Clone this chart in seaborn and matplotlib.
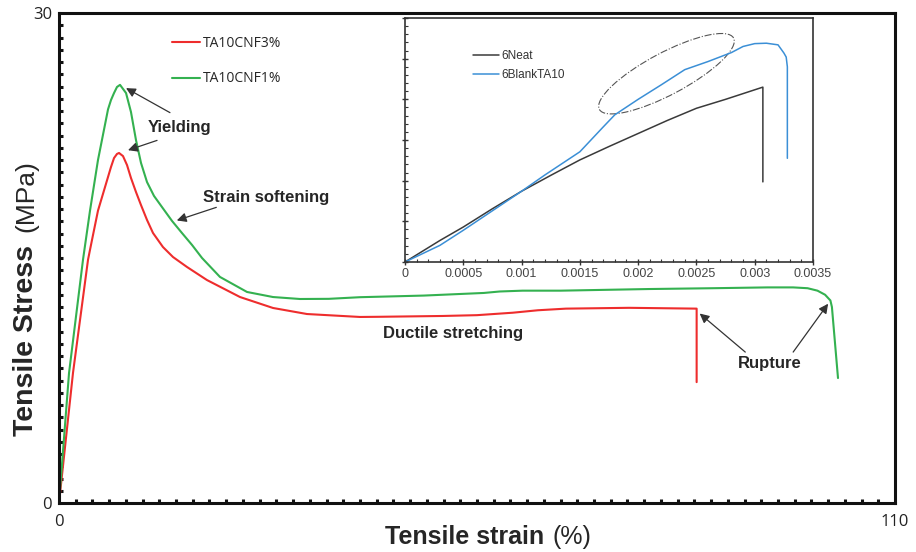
import numpy as np
import pandas as pd
import seaborn as sns
import matplotlib.pyplot as plt
from matplotlib.ticker import MultipleLocator
from matplotlib.patches import Ellipse
from matplotlib.transforms import ScaledTranslation

# main curves (strain %, stress MPa)
cnf3_strain = [0, 1.84, 3.82, 4.34, 5.13, 6.45, 6.84, 7.24, 7.63, 7.9, 8.42, 8.95, 9.47, 10.13,
               10.79, 11.58, 12.37, 13.68, 15.0, 16.84, 19.47, 23.82, 28.16, 32.63, 39.6, 42.0,
               50.4, 55.0, 59.7, 63.0, 66.7, 75.0, 83.9, 83.9]
cnf3_stress = [0, 7.96, 14.9, 16.1, 17.9, 19.96, 20.57, 21.12, 21.37, 21.43, 21.24, 20.69, 19.9,
               19.04, 18.24, 17.33, 16.53, 15.67, 15.06, 14.45, 13.65, 12.61, 11.94, 11.57,
               11.39, 11.4, 11.45, 11.5, 11.65, 11.8, 11.9, 11.95, 11.9, 7.4]

cnf1_strain = [0, 1.32, 3.16, 4.08, 5.13, 6.45, 6.84, 7.24, 7.63, 8.03, 8.82, 9.47, 10.13,
               10.79, 11.58, 12.5, 13.55, 14.87, 16.18, 17.5, 18.82, 21.18, 24.74, 28.16,
               31.71, 35.5, 39.6, 48.0, 55.9, 58.0, 61.0, 66.0, 77.6, 86.0, 93.2, 96.6, 98.5,
               99.8, 100.8, 101.5, 101.7, 102.5]
cnf1_stress = [0, 7.96, 14.9, 17.9, 21.0, 24.1, 24.67, 25.1, 25.47, 25.6, 25.1, 23.94, 22.22,
               20.82, 19.65, 18.8, 18.12, 17.27, 16.53, 15.8, 15.0, 13.84, 12.92, 12.61,
               12.49, 12.5, 12.6, 12.7, 12.86, 12.95, 13.0, 13.0, 13.1, 13.15, 13.2, 13.2, 13.15,
               13.0, 12.75, 12.4, 12.0, 7.65]

# inset curves (strain, stress in tick units)
neat_strain = [0, 0.0003, 0.0005, 0.00075, 0.001, 0.00125, 0.0015, 0.00175, 0.002, 0.00225,
               0.0025, 0.00275, 0.00307, 0.00307]
neat_stress = [0, 5.3, 8.6, 13.1, 17.4, 21.3, 25.1, 28.4, 31.6, 34.8, 37.8, 40.0, 43.0, 19.7]

blank_strain = [0, 0.0003, 0.0005, 0.001, 0.0012, 0.0015, 0.0017, 0.0018, 0.002, 0.0022,
                0.0024, 0.0026, 0.0028, 0.0029, 0.003, 0.0031, 0.0032, 0.00325, 0.00327,
                0.00328, 0.00328]
blank_stress = [0, 4.1, 7.8, 17.4, 21.4, 27.1, 33.2, 36.2, 40.0, 43.6,
                47.3, 49.3, 51.5, 53.0, 53.7, 53.8, 53.4, 51.4, 50.4, 48.0, 25.5]

inset_xticks = [0, 0.0005, 0.001, 0.0015, 0.002, 0.0025, 0.003, 0.0035]
inset_xlabels = ['0', '0.0005', '0.001', '0.0015', '0.002', '0.0025', '0.003', '0.0035']

main_df = pd.concat([
    pd.DataFrame({'strain': cnf3_strain, 'stress': cnf3_stress, 'sample': 'TA10CNF3%'}),
    pd.DataFrame({'strain': cnf1_strain, 'stress': cnf1_stress, 'sample': 'TA10CNF1%'}),
], ignore_index=True)
inset_df = pd.concat([
    pd.DataFrame({'strain': neat_strain, 'stress': neat_stress, 'sample': '6Neat'}),
    pd.DataFrame({'strain': blank_strain, 'stress': blank_stress, 'sample': '6BlankTA10'}),
], ignore_index=True)

sns.set_style('white')
plt.rcParams['font.family'] = ['Open Sans', 'DejaVu Sans']

fig = plt.figure(figsize=(9.16, 5.52), dpi=100)
ax = fig.add_axes([59/916, 49/552, 836/916, 490/552])

sns.lineplot(data=main_df, x='strain', y='stress', hue='sample',
             hue_order=['TA10CNF3%', 'TA10CNF1%'],
             palette=['#ee2d2d', '#34b150'], sort=False, estimator=None,
             linewidth=1.5, ax=ax)

ax.set_xlim(0, 110)
ax.set_ylim(0, 30)
ax.set_xticks([0, 110])
ax.set_yticks([0, 30])
ax.xaxis.set_minor_locator(MultipleLocator(2.2))
ax.yaxis.set_minor_locator(MultipleLocator(0.75))
ax.tick_params(which='major', length=0, labelsize=12, colors='#222')
ax.tick_params(axis='x', which='major', pad=8)
ax.tick_params(axis='y', which='major', pad=5)
ax.tick_params(which='minor', direction='in', length=3, width=2.2, color='#111',
               bottom=True, left=True)
for s in ax.spines.values():
    s.set_linewidth(2.2)
    s.set_color('#111')
ax.set_xlabel('')
ax.set_ylabel('')

sns.move_legend(ax, 'upper left', bbox_to_anchor=(0.135, 0.954), frameon=False,
                title=None, fontsize=10, labelspacing=1.5, handlelength=2.0,
                handletextpad=0.2, borderpad=0, borderaxespad=0)

# axis titles: bold words with a regular unit
fig.text(465/916, 1 - 537/552, 'Tensile strain', fontsize=18, fontweight='bold',
         family='Liberation Sans', ha='center', va='center')
fig.text(572/916, 1 - 537/552, '(%)', fontsize=18, family='Liberation Sans',
         ha='center', va='center')
fig.text(26/916, 1 - 340/552, 'Tensile Stress', fontsize=20.5, fontweight='bold',
         family='Liberation Sans', rotation=90, ha='center', va='center')
fig.text(26/916, 1 - 196/552, '(MPa)', fontsize=19, family='Liberation Sans',
         rotation=90, ha='center', va='center')

# annotations
txt = dict(fontsize=12, fontweight='bold', family='Liberation Sans', ha='center', va='center')
arr = dict(arrowstyle='-|>', color='#333', lw=0.9, mutation_scale=14, shrinkA=0, shrinkB=0)
ax.text(15.9, 23.0, 'Yielding', **txt)
ax.annotate('', xy=(8.82, 25.4), xytext=(14.6, 23.9), arrowprops=arr)
ax.annotate('', xy=(9.08, 21.6), xytext=(12.9, 22.2), arrowprops=arr)
ax.text(27.2, 18.7, 'Strain softening', **txt)
ax.annotate('', xy=(15.5, 17.3), xytext=(20.7, 18.1), arrowprops=arr)
ax.text(51.8, 10.35, 'Ductile stretching', **txt)
ax.text(93.5, 8.57, 'Rupture', **txt)
ax.annotate('', xy=(84.3, 11.6), xytext=(90.3, 9.24), arrowprops=arr)
ax.annotate('', xy=(101.2, 12.2), xytext=(96.6, 9.24), arrowprops=arr)

# inset
axi = fig.add_axes([405/916, 290/552, 408/916, 244/552])
axi.set_facecolor('white')
sns.lineplot(data=inset_df, x='strain', y='stress', hue='sample',
             hue_order=['6Neat', '6BlankTA10'], palette=['#3a3a3a', '#3b8fd6'],
             sort=False, estimator=None, linewidth=1.1, ax=axi)
axi.set_xlim(0, 0.0035)
axi.set_ylim(0, 60)
axi.set_xticks(inset_xticks)
axi.set_xticklabels(inset_xlabels, family='Liberation Sans')
axi.set_yticks([0, 10, 20, 30, 40, 50, 60])
axi.set_yticklabels([])
axi.xaxis.set_minor_locator(MultipleLocator(0.0001))
axi.yaxis.set_minor_locator(MultipleLocator(2))
axi.tick_params(which='major', direction='inout', length=5, width=1, color='#333',
                labelsize=9, labelcolor='#444', bottom=True, left=True, pad=2)
axi.tick_params(which='minor', direction='in', length=2.5, width=0.8, color='#333',
                bottom=True, left=True)
for s in axi.spines.values():
    s.set_linewidth(1.2)
    s.set_color('#333')
axi.set_xlabel('')
axi.set_ylabel('')
sns.move_legend(axi, 'upper left', bbox_to_anchor=(0.167, 0.868), frameon=False,
                title=None, labelspacing=0.55, handlelength=2.2,
                handletextpad=0.15, borderpad=0, borderaxespad=0,
                prop={'family': 'Liberation Sans', 'size': 8.5})
for t in axi.get_legend().get_texts():
    t.set_color('#333')

ell = Ellipse((0, 0), 1.52, 0.42, angle=28, fill=False, ls='-.', lw=0.8, ec='#555',
              transform=fig.dpi_scale_trans + ScaledTranslation(0.002243, 46.3, axi.transData))
axi.add_patch(ell)

fig.savefig('out.png', dpi=100)
